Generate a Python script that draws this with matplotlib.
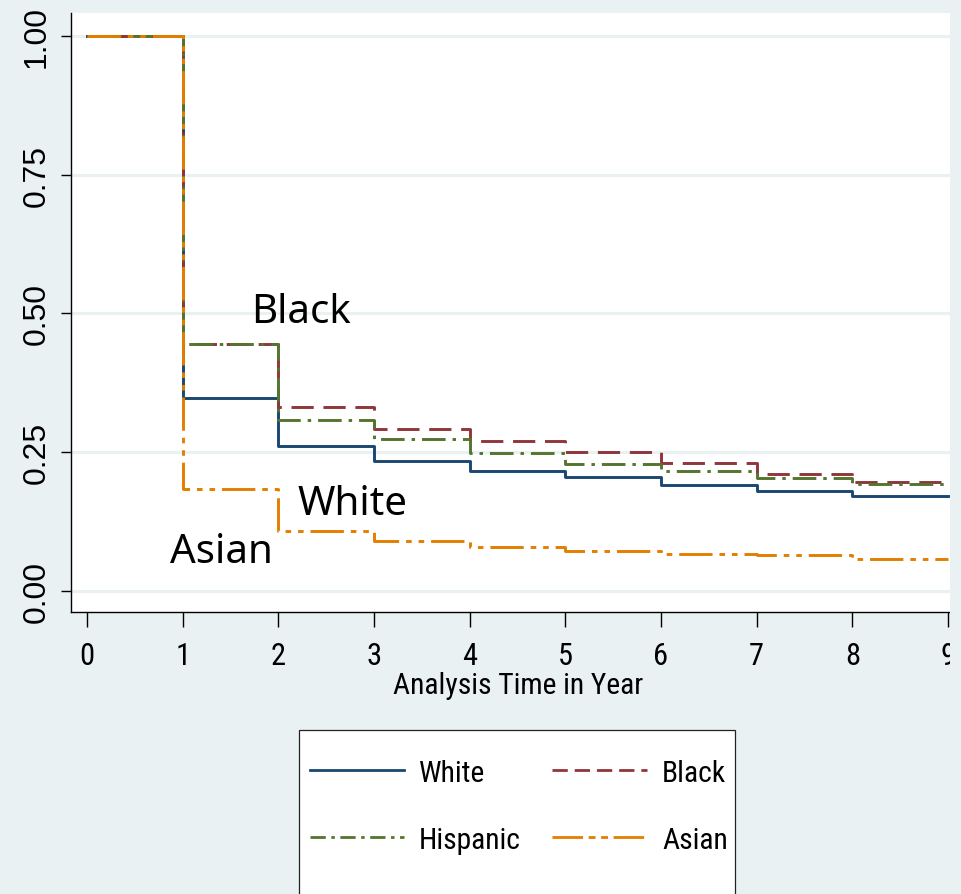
import matplotlib
matplotlib.use("Agg")
import matplotlib.pyplot as plt
from matplotlib.patches import Rectangle
from matplotlib.lines import Line2D
from matplotlib import font_manager

plt.rcParams["lines.scale_dashes"] = False

# ---- data ----
times = [0, 1, 2, 3, 4, 5, 6, 7, 8]
end_time = 9
white = [1.0, 0.347, 0.262, 0.234, 0.217, 0.205, 0.191, 0.180, 0.172]
black = [1.0, 0.445, 0.331, 0.292, 0.270, 0.251, 0.231, 0.211, 0.196]
hispanic = [1.0, 0.445, 0.309, 0.273, 0.248, 0.228, 0.217, 0.204, 0.193]
asian = [1.0, 0.184, 0.108, 0.090, 0.079, 0.073, 0.067, 0.064, 0.057]
series_names = ["White", "Black", "Hispanic", "Asian"]
x_ticks = list(range(10))
y_ticks = [0.0, 0.25, 0.50, 0.75, 1.00]
y_tick_labels = ["0.00", "0.25", "0.50", "0.75", "1.00"]
x_label = "Analysis Time in Year"
annotations = [("Black", 1.714, 0.485), ("White", 2.205, 0.139), ("Asian", 0.868, 0.052)]

# ---- style ----
BG = "#e9f1f3"
colors = {"White": "#1a476f", "Black": "#90353b", "Hispanic": "#55752f", "Asian": "#e37e00"}
styles = {
    "White": "-",
    "Black": (0, (16, 7)),
    "Hispanic": (0, (17, 5, 2.5, 5)),
    "Asian": (0, (24, 5, 4, 5, 4, 5)),
}
legend_styles = {
    "White": "-",
    "Black": (0, (11, 5)),
    "Hispanic": (0, (11, 4, 2.5, 4)),
    "Asian": (0, (22, 4, 5, 4, 5, 4)),
}

available = {f.name for f in font_manager.fontManager.ttflist}
condensed = [n for n in ["Liberation Sans Narrow", "Arial Narrow", "Roboto Condensed",
                         "Open Sans Condensed", "Noto Sans Condensed", "DejaVu Sans Condensed"]
             if n in available]
if condensed:
    NARROW = [condensed[0], "Liberation Sans", "DejaVu Sans"]
    NSCALE = 1.0
else:
    NARROW = ["Liberation Sans", "DejaVu Sans"]
    NSCALE = 0.86
REG = ["Liberation Sans", "DejaVu Sans"]

W, H = 962, 895
def fx(px):
    return px / W
def fy(py):
    return 1 - py / H

fig = plt.figure(figsize=(9.62, 8.95), dpi=100, facecolor=BG)
ax = fig.add_axes([fx(71), fy(613), (950 - 71) / W, (613 - 14) / H])
ax.set_facecolor("white")

data = {"White": white, "Black": black, "Hispanic": hispanic, "Asian": asian}
for name in series_names:
    vals = data[name]
    xs = times + [end_time]
    ys = vals + [vals[-1]]
    ax.plot(xs, ys, drawstyle="steps-post", color=colors[name], lw=2.1,
            linestyle=styles[name], zorder=3)

ax.set_xlim(-0.167, 9.021)
ax.set_ylim(-0.0378, 1.0414)
ax.set_xticks(x_ticks)
ax.set_xticklabels([str(t) for t in x_ticks], fontfamily=NARROW, fontsize=22 if condensed else 21)
ax.set_yticks(y_ticks)
ax.set_yticklabels(y_tick_labels, fontfamily=REG, fontsize=23, rotation=90, va="center")
ax.tick_params(axis="x", direction="out", length=10.8, width=1, pad=10, colors="black")
ax.tick_params(axis="y", direction="out", length=7.2, width=1, pad=7, colors="black")
ax.yaxis.grid(True, color=BG, lw=2.2)
ax.xaxis.grid(False)
ax.set_axisbelow(True)
for s in ["top", "right"]:
    ax.spines[s].set_visible(False)
for s in ["left", "bottom"]:
    ax.spines[s].set_linewidth(1)
    ax.spines[s].set_color("black")

for txt, xv, yv in annotations:
    ax.text(xv, yv, txt, fontfamily=["Noto Sans", "DejaVu Sans"], fontsize=29,
            ha="left", va="baseline", color="black", zorder=4)

# axis title
fig.text(fx(518), fy(694), x_label, fontfamily=NARROW, fontsize=21.3 * NSCALE, ha="center",
         va="baseline", color="black")

# legend box (extends below visible area)
fig.patches.append(Rectangle((fx(299), fy(910)), (735 - 299) / W, (910 - 731) / H,
                             transform=fig.transFigure, facecolor="white",
                             edgecolor="#222222", lw=0.9, zorder=1))
rows = [(771, ["White", "Black"]), (838, ["Hispanic", "Asian"])]
cols = [(310, 404, 419), (552, 647, 662)]
for ry, names in rows:
    for (x0, x1, tx), name in zip(cols, names):
        fig.lines.append(Line2D([fx(x0), fx(x1)], [fy(ry), fy(ry)], transform=fig.transFigure,
                                color=colors[name], lw=2.0, linestyle=legend_styles[name],
                                zorder=2))
        fig.text(fx(tx), fy(ry), name, fontfamily=NARROW, fontsize=21.3 * NSCALE, ha="left",
                 va="center_baseline", color="black", zorder=3)

# crop strip on the right edge
fig.patches.append(Rectangle((fx(950), 0), (W - 950) / W, 1, transform=fig.transFigure,
                             facecolor=BG, edgecolor="none", zorder=10))

fig.savefig("out.png", dpi=100, facecolor=BG)
